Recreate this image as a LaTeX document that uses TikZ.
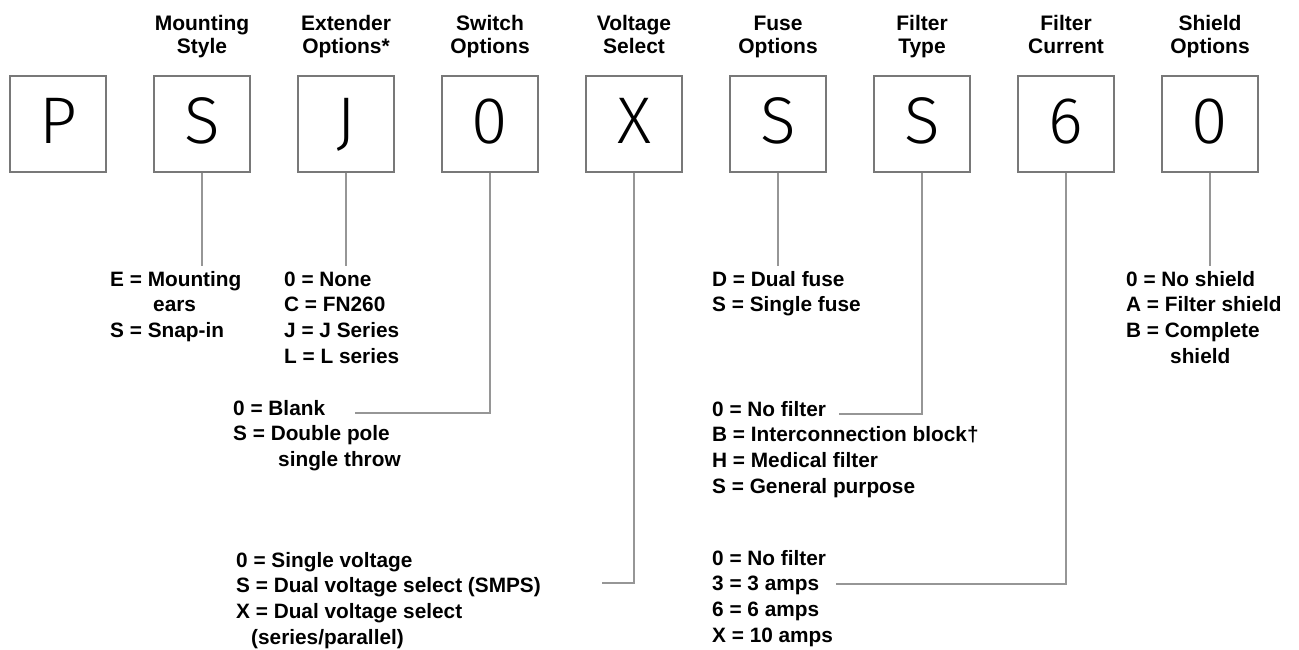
\documentclass[tikz,border=0pt]{standalone}
\usepackage{fontspec}
\setmainfont{Liberation Sans}
\newfontfamily\boxfont{Fira Sans Light}
\definecolor{boxgray}{RGB}{120,120,120}
\definecolor{linegray}{RGB}{150,150,150}
\begin{document}
\begin{tikzpicture}[x=1pt,y=-1pt,
  codebox/.style={draw=boxgray, line width=1.1pt, minimum width=96pt, minimum height=96pt,
    inner sep=0pt, text height=46pt, text depth=6pt,
    font=\boxfont\fontsize{66}{66}\selectfont},
  head/.style={anchor=base, align=center, inner sep=0pt,
    font=\fontsize{21}{23.5}\selectfont\bfseries},
  opt/.style={anchor=base west, align=left, inner sep=0pt,
    font=\fontsize{20.8}{25.7}\selectfont\bfseries},
  conn/.style={draw=linegray, line width=1.5pt}]
\useasboundingbox (0,0) rectangle (1299,650);

% code boxes
\node[codebox] (b1) at (58,124) {P};
\node[codebox] (b2) at (202,124) {S};
\node[codebox] (b3) at (346,124) {J};
\node[codebox] (b4) at (490,124) {0};
\node[codebox] (b5) at (634,124) {X};
\node[codebox] (b6) at (778,124) {S};
\node[codebox] (b7) at (922,124) {S};
\node[codebox] (b8) at (1066,124) {6};
\node[codebox] (b9) at (1210,124) {0};

% headers (anchor base = baseline of last line)
\node[head] (h2) at (202,54) {Mounting\\Style};
\node[head] (h3) at (346,54) {Extender\\Options*};
\node[head] (h4) at (490,54) {Switch\\Options};
\node[head] (h5) at (634,54) {Voltage\\Select};
\node[head] (h6) at (778,54) {Fuse\\Options};
\node[head] (h7) at (922,54) {Filter\\Type};
\node[head] (h8) at (1066,54) {Filter\\Current};
\node[head] (h9) at (1210,54) {Shield\\Options};

% option lists (anchor base west = baseline of last line)
\node[opt] (o2) at (110,337.4) {E = Mounting\\\hspace*{43pt}ears\\S = Snap-in};
\node[opt] (o3) at (284,363.1) {0 = None\\C = FN260\\J = J Series\\L = L series};
\node[opt] (o4) at (233,466.4) {0 = Blank\\S = Double pole\\\hspace*{45pt}single throw};
\node[opt] (o5) at (236,644.1) {0 = Single voltage\\S = Dual voltage select (SMPS)\\X = Dual voltage select\\\hspace*{15pt}(series/parallel)};
\node[opt] (o6) at (712,311.7) {D = Dual fuse\\S = Single fuse};
\node[opt] (o7) at (712,493.1) {0 = No filter\\B = Interconnection block†\\H = Medical filter\\S = General purpose};
\node[opt] (o8) at (712,642.1) {0 = No filter\\3 = 3 amps\\6 = 6 amps\\X = 10 amps};
\node[opt] (o9) at (1126,363.1) {0 = No shield\\A = Filter shield\\B = Complete\\\hspace*{44pt}shield};

% connector ends
\coordinate (e2) at (202,266);
\coordinate (e3) at (346,266);
\coordinate (e4) at (355,413);
\coordinate (e5) at (602,583);
\coordinate (e6) at (778,266);
\coordinate (e7) at (839,414);
\coordinate (e8) at (836,584);
\coordinate (e9) at (1210,266);

% connectors
\draw[conn] (b2.south) -- (e2);
\draw[conn] (b3.south) -- (e3);
\draw[conn] (b4.south) |- (e4);
\draw[conn] (b5.south) |- (e5);
\draw[conn] (b6.south) -- (e6);
\draw[conn] (b7.south) |- (e7);
\draw[conn] (b8.south) |- (e8);
\draw[conn] (b9.south) -- (e9);
\end{tikzpicture}
\end{document}
